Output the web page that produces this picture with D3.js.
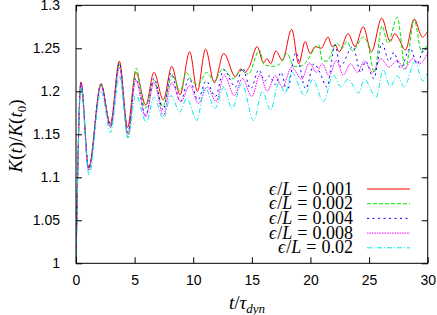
<!DOCTYPE html>
<html>
<head>
<meta charset="utf-8">
<script src="https://cdn.jsdelivr.net/npm/d3@7"></script>
<style>
  html, body { margin: 0; padding: 0; background: #fff; }
  svg { display: block; }
</style>
</head>
<body>
<svg id="chart" width="437" height="315"></svg>
<script>
// K(t)/K(t0) — key points (peaks / troughs)
const eps001 = [[0,1.0],[0.42,1.211],[1.08,1.111],[2.13,1.209],[2.93,1.162],[3.7,1.235],[4.4,1.158],[5.1,1.222],[5.95,1.184],[6.65,1.222],[7.45,1.19],[8.17,1.229],[8.87,1.196],[9.7,1.246],[10.35,1.2],[11.05,1.249],[11.8,1.21],[12.6,1.244],[13.6,1.217],[14.05,1.226],[14.4,1.222],[14.8,1.229],[15.45,1.252],[16.0,1.233],[16.3,1.238],[16.6,1.232],[17.05,1.247],[17.6,1.236],[18.4,1.272],[19.0,1.232],[19.55,1.258],[19.97,1.244],[20.4,1.252],[20.9,1.25],[21.5,1.263],[21.85,1.252],[22.1,1.254],[22.45,1.246],[23.2,1.267],[23.8,1.252],[24.5,1.275],[25.2,1.246],[26.08,1.285],[26.8,1.258],[27.2,1.267],[27.5,1.262],[28.1,1.248],[28.85,1.284],[29.55,1.263],[30,1.27]];
const eps002 = [[0,1.0],[0.42,1.21],[1.08,1.11],[2.13,1.208],[2.95,1.158],[3.7,1.232],[4.42,1.146],[5.12,1.227],[5.9,1.18],[6.65,1.213],[7.4,1.182],[8.2,1.219],[8.9,1.2],[9.4,1.222],[9.9,1.212],[10.4,1.208],[11.15,1.222],[11.8,1.212],[12.5,1.226],[13.4,1.215],[14.1,1.225],[14.7,1.22],[15.65,1.248],[16.05,1.231],[16.8,1.229],[17.4,1.232],[18.0,1.244],[18.6,1.229],[19.1,1.229],[19.5,1.232],[20.7,1.254],[21.0,1.236],[21.4,1.235],[22.25,1.256],[22.7,1.25],[23.1,1.258],[23.6,1.247],[24.5,1.263],[24.9,1.255],[25.45,1.222],[26.1,1.276],[26.6,1.256],[27.4,1.286],[28.1,1.226],[28.85,1.283],[29.5,1.245],[30,1.256]];
const eps004 = [[0,1.0],[0.42,1.21],[1.08,1.11],[2.13,1.208],[2.95,1.16],[3.7,1.233],[4.42,1.152],[5.1,1.215],[5.95,1.172],[6.65,1.215],[7.45,1.178],[8.1,1.221],[8.9,1.188],[9.65,1.215],[10.4,1.19],[11.1,1.212],[11.9,1.194],[12.6,1.225],[13.6,1.205],[14.2,1.227],[14.9,1.203],[15.6,1.225],[16.1,1.212],[16.5,1.218],[17.0,1.208],[17.5,1.222],[18.0,1.2],[18.75,1.245],[19.6,1.203],[20.3,1.232],[20.8,1.222],[21.4,1.205],[22.1,1.254],[22.55,1.229],[23.6,1.252],[24.3,1.222],[24.7,1.235],[25.4,1.215],[26.1,1.256],[26.7,1.235],[27.1,1.245],[27.7,1.227],[28.5,1.25],[29.1,1.232],[29.7,1.25],[30,1.245]];
const eps008 = [[0,1.0],[0.42,1.209],[1.08,1.108],[2.13,1.206],[2.95,1.158],[3.7,1.228],[4.42,1.15],[5.1,1.213],[5.95,1.17],[6.65,1.21],[7.45,1.172],[8.15,1.21],[8.95,1.188],[9.7,1.207],[10.45,1.186],[11.2,1.205],[11.95,1.188],[12.65,1.219],[13.5,1.195],[14.2,1.215],[15.0,1.194],[15.7,1.22],[16.3,1.2],[17.0,1.218],[17.6,1.205],[18.4,1.228],[19.25,1.214],[19.9,1.233],[20.5,1.222],[21.0,1.232],[21.6,1.218],[22.2,1.236],[22.8,1.219],[23.4,1.232],[24.0,1.222],[24.6,1.235],[25.3,1.222],[26.0,1.238],[26.7,1.228],[27.4,1.236],[28.0,1.226],[28.7,1.238],[29.3,1.232],[30,1.245]];
const eps02 = [[0,1.0],[0.42,1.205],[1.1,1.103],[2.13,1.2],[2.95,1.152],[3.7,1.218],[4.45,1.146],[5.1,1.196],[6.0,1.164],[6.65,1.193],[7.45,1.168],[8.1,1.195],[8.85,1.176],[9.45,1.192],[10.3,1.166],[11.0,1.205],[11.85,1.18],[12.6,1.205],[13.3,1.18],[14.15,1.209],[15.15,1.166],[15.9,1.2],[16.6,1.178],[17.3,1.21],[17.85,1.198],[18.4,1.222],[19.5,1.195],[20.2,1.214],[21.1,1.188],[21.95,1.219],[22.6,1.205],[23.2,1.214],[24.1,1.198],[24.6,1.214],[25.6,1.193],[26.2,1.225],[26.8,1.205],[27.4,1.218],[28.0,1.205],[28.9,1.234],[29.6,1.212],[30,1.222]];

const legendValues = ['0.001', '0.002', '0.004', '0.008', '0.02'];
const xTicks = [0, 5, 10, 15, 20, 25, 30];
const yTicks = [1, 1.05, 1.1, 1.15, 1.2, 1.25, 1.3];

const series = [
  { data: eps001, colour: '#ff0000', dash: null },
  { data: eps002, colour: '#00e000', dash: '4,2' },
  { data: eps004, colour: '#0000ff', dash: '2,3.5' },
  { data: eps008, colour: '#ff00ff', dash: '1.5,1' },
  { data: eps02,  colour: '#00e8e8', dash: '5,2,1,2' }
];

const svg = d3.select('#chart');
const L = 76, R = 427.7, T = 5.3, B = 263.3;

const x = d3.scaleLinear().domain([0, 30]).range([L, R]);
const y = d3.scaleLinear().domain([1, 1.3]).range([B, T]);

// clip to plot frame
svg.append('clipPath').attr('id', 'clip')
  .append('rect').attr('x', L).attr('y', T).attr('width', R - L).attr('height', B - T);

// curves
const line = d3.line()
  .x(d => x(d[0]))
  .y(d => y(d[1]))
  .curve(d3.curveMonotoneX);

const curves = svg.append('g').attr('clip-path', 'url(#clip)');
series.forEach(s => {
  curves.append('path')
    .datum(s.data)
    .attr('d', line)
    .attr('fill', 'none')
    .attr('stroke', s.colour)
    .attr('stroke-width', 1)
    .attr('stroke-dasharray', s.dash);
});

// axes — ticks inward on all four sides
const tk = 6;
const axisFont = '"Liberation Sans", Arial, sans-serif';

svg.append('g').attr('transform', `translate(0,${B})`)
  .call(d3.axisBottom(x).tickValues(xTicks).tickSizeInner(-tk).tickSizeOuter(0).tickPadding(12).tickFormat(d3.format('d')))
  .call(g => g.select('.domain').remove())
  .call(g => g.selectAll('text').attr('font-family', axisFont).attr('font-size', 14).attr('fill', '#000'));

svg.append('g').attr('transform', `translate(0,${T})`)
  .call(d3.axisTop(x).tickValues(xTicks).tickSizeInner(-tk).tickSizeOuter(0).tickFormat(''))
  .call(g => g.select('.domain').remove());

svg.append('g').attr('transform', `translate(${L},0)`)
  .call(d3.axisLeft(y).tickValues(yTicks).tickSizeInner(-tk).tickSizeOuter(0).tickPadding(16).tickFormat(d => d3.format('')(+d.toFixed(2))))
  .call(g => g.select('.domain').remove())
  .call(g => g.selectAll('text').attr('font-family', axisFont).attr('font-size', 14).attr('fill', '#000'));

svg.append('g').attr('transform', `translate(${R},0)`)
  .call(d3.axisRight(y).tickValues(yTicks).tickSizeInner(-tk).tickSizeOuter(0).tickFormat(''))
  .call(g => g.select('.domain').remove());

svg.selectAll('.tick line').attr('stroke', '#000');

svg.append('rect')
  .attr('x', L).attr('y', T).attr('width', R - L).attr('height', B - T)
  .attr('fill', 'none').attr('stroke', '#000').attr('stroke-width', 1);

// math-style labels
const mathFont = '"Liberation Serif", "Times New Roman", serif';

const ylab = svg.append('text')
  .attr('transform', 'translate(22,136) rotate(-90)')
  .attr('text-anchor', 'middle')
  .attr('font-family', mathFont).attr('font-size', 19);
ylab.append('tspan').attr('font-style', 'italic').text('K');
ylab.append('tspan').text('(');
ylab.append('tspan').attr('font-style', 'italic').text('t');
ylab.append('tspan').text(')/');
ylab.append('tspan').attr('font-style', 'italic').text('K');
ylab.append('tspan').text('(');
ylab.append('tspan').attr('font-style', 'italic').text('t');
ylab.append('tspan').attr('font-size', 13).attr('dy', 4).text('0');
ylab.append('tspan').attr('dy', -4).text(')');

const xlab = svg.append('text')
  .attr('x', 247).attr('y', 309)
  .attr('text-anchor', 'middle')
  .attr('font-family', mathFont).attr('font-size', 19);
xlab.append('tspan').attr('font-style', 'italic').text('t');
xlab.append('tspan').text('/');
xlab.append('tspan').attr('font-style', 'italic').text('τ');
xlab.append('tspan').attr('font-style', 'italic').attr('font-size', 13).attr('dy', 4).text('dyn');

// legend
const legend = svg.append('g');
legendValues.forEach((v, i) => {
  const by = 194.5 + i * 14.7;
  const t = legend.append('text')
    .attr('x', 353).attr('y', by)
    .attr('text-anchor', 'end')
    .attr('font-family', mathFont).attr('font-size', 18);
  t.append('tspan').attr('font-style', 'italic').text('ϵ');
  t.append('tspan').attr('dx', 1).text('/');
  t.append('tspan').attr('font-style', 'italic').text('L');
  t.append('tspan').attr('dx', 5).text('=');
  t.append('tspan').attr('dx', 5).text(v);

  legend.append('line')
    .attr('x1', 367).attr('x2', 410)
    .attr('y1', by - 5.5).attr('y2', by - 5.5)
    .attr('stroke', series[i].colour)
    .attr('stroke-width', 1)
    .attr('stroke-dasharray', series[i].dash);
});
</script>
</body>
</html>
